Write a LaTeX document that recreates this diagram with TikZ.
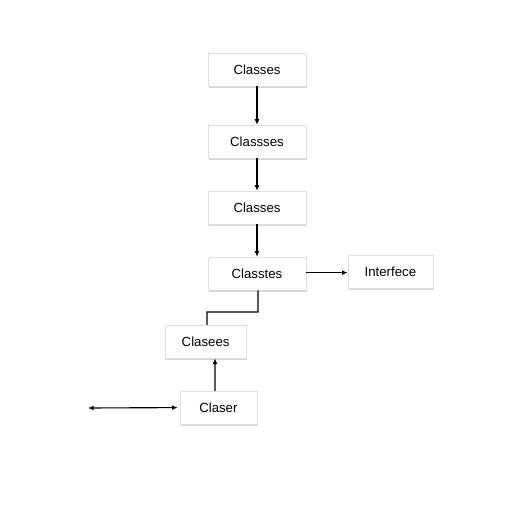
\documentclass[tikz,border=0pt]{standalone}
\usepackage{fontspec}
\setmainfont{Liberation Sans}
\usepackage{tikz}
\usetikzlibrary{positioning,shadows,arrows.meta}

\tikzset{
  classbox/.style={draw=gray!25, fill=white, drop shadow={opacity=0.35, fill=gray, shadow xshift=0.8pt, shadow yshift=-1.2pt},
    minimum height=0.825cm, minimum width=2.45cm, inner sep=0pt, font=\fontsize{9.4}{11}\selectfont},
  link/.style={line width=0.8pt, -{Latex[length=4pt, width=3.5pt]}}
}

\begin{document}
\begin{tikzpicture}
\useasboundingbox (0,0) rectangle (12.8,12.8);

% Classes
\node[classbox] (C1) at (6.425,11.06) {Classes};
\node[classbox] (C2) at (6.425,9.26) {Classses};
\node[classbox] (C3) at (6.425,7.61) {Classes};
\node[classbox] (C4) at (6.425,5.96) {Classtes};
\node[classbox, minimum width=2.125cm] (I) at (9.76,6.01) {Interfece};
\node[classbox, minimum width=2.025cm] (C5) at (5.14,4.26) {Clasees};
\node[classbox, minimum width=1.925cm] (C6) at (5.46,2.61) {Claser};
\coordinate (L) at (2.2,2.6);

% Arrows
\draw [link] (C1.south) -- (C2.north);
\draw [link] (C2.south) -- (C3.north);
\draw [link] (C3.south) -- (C4.north);
\draw [link] ([yshift=0.025cm]C4.east) -- ([yshift=0.025cm]C4.east -| I.west);
\draw [line width=0.8pt] ([xshift=0.025cm]C4.south) |- (5.175,5.0) -- ([xshift=0.035cm]C5.north);
\draw [link] ([xshift=-0.085cm]C6.north) -- ([xshift=0.235cm]C5.south);
\draw [line width=0.8pt, {Latex[length=4pt, width=3.5pt]}-{Latex[length=4pt, width=3.5pt]}] (L) -- ([xshift=-0.05cm]C6.west);

\end{tikzpicture}
\end{document}
